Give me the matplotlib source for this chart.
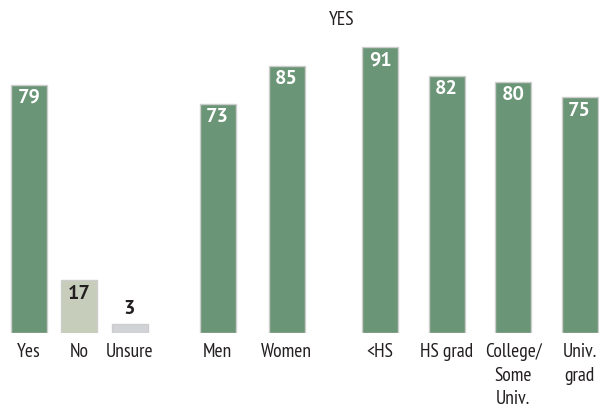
import matplotlib.pyplot as plt

# data
categories = ["Yes", "No", "Unsure", "Men", "Women", "<HS", "HS grad",
              "College/\nSome\nUniv.", "Univ.\ngrad"]
values = [79, 17, 3, 73, 85, 91, 82, 80, 75]
groups = [0, 0, 0, 1, 1, 2, 2, 2, 2]

# layout (pixel centres per group: start, step)
group_layout = [(29, 50.25), (217.5, 69), (380, 66.5)]

GREEN = "#6a9677"
NO_COL = "#c6cdba"
UNSURE_COL = "#d1d3d6"
EDGE = "#cdcdcd"
DARK = "#231f20"

LABEL_FONT = ["PT Sans Narrow", "DejaVu Sans"]
NUM_FONT = ["PT Sans", "DejaVu Sans"]

xs = []
counters = {}
for g in groups:
    i = counters.get(g, 0)
    start, step = group_layout[g]
    xs.append(start + i * step)
    counters[g] = i + 1

colors = [GREEN] * len(values)
colors[1] = NO_COL
colors[2] = UNSURE_COL

fig = plt.figure(figsize=(5.99, 4.15), dpi=100)
fig.patch.set_facecolor("white")
base = 82 / 415
ax = fig.add_axes([0, base, 1, 1 - base])
ax.set_xlim(0, 599)
ax.set_ylim(0, 333 / 3.14)

ax.bar(xs, values, width=36, color=colors, edgecolor=EDGE, linewidth=1.0)

for x, v, c in zip(xs, values, colors):
    if c == GREEN:
        off, col = -13, "white"
    elif c == NO_COL:
        off, col = -14, DARK
    else:
        off, col = 15, DARK
    ax.annotate(str(v), (x, v), xytext=(0, off), textcoords="offset pixels",
                ha="center", va="center", color=col, fontsize=14.5,
                fontweight="bold", family=NUM_FONT)

ax.set_xticks(xs)
ax.set_xticklabels(categories, fontsize=14, color=DARK, family=LABEL_FONT,
                   linespacing=1.42)
ax.tick_params(axis="x", length=0, pad=7)
ax.set_yticks([])
for s in ax.spines.values():
    s.set_visible(False)

fig.text(341.5 / 599, 1 - 20 / 415, "YES", ha="center", va="center",
         fontsize=14, color=DARK, family=LABEL_FONT)

fig.savefig("out.png", dpi=100, facecolor="white")
